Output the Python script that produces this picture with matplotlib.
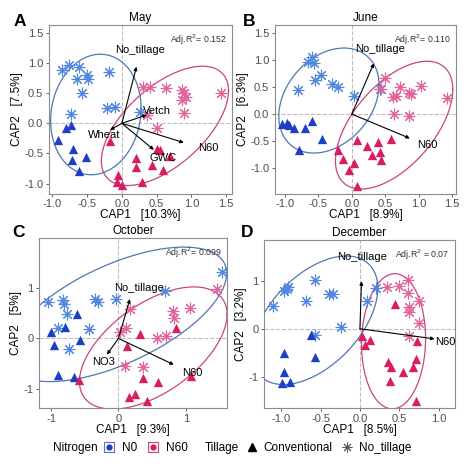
import numpy as np
import matplotlib.pyplot as plt
from matplotlib.lines import Line2D

plt.rcParams['font.family'] = ['Liberation Sans', 'DejaVu Sans']

# =========================
# Data
# =========================
# May
may_n0_nt = [(-0.86, 0.88), (-0.76, 0.97), (-0.62, 0.94), (-0.65, 0.74), (-0.50, 0.80),
             (-0.48, 0.74), (-0.58, 0.51), (-0.19, 0.86), (-0.21, 0.25), (-0.10, 0.27),
             (-0.73, 0.16), (0.26, 0.19)]
may_n0_cv = [(-0.92, -0.27), (-0.81, -0.07), (-0.73, -0.03), (-0.70, -0.43), (-0.72, -0.60),
             (-0.52, -0.55), (-0.61, -0.79)]
may_n60_nt = [(0.31, 0.60), (0.41, 0.61), (0.64, 0.58), (0.86, 0.55), (0.89, 0.50),
              (0.92, 0.43), (0.87, 0.38), (1.43, 0.51), (0.89, 0.18), (0.36, 0.14), (0.50, -0.08)]
may_n60_cv = [(-0.17, -0.30), (0.21, -0.58), (0.21, -0.72), (0.43, -0.69), (0.50, -0.43),
              (0.55, -0.44), (0.69, -0.54), (0.59, -0.77), (-0.05, -0.86), (-0.07, -0.98),
              (0.00, -1.02), (0.29, -0.97)]
may_arrows = [("No_tillage", 0.21, 0.94), ("Vetch", 0.36, 0.14), ("Wheat", -0.17, -0.11),
              ("GWC", 0.46, -0.44), ("N60", 0.89, -0.32)]
may_label_pos = [(0.26, 1.22), (0.50, 0.20), (-0.26, -0.19), (0.60, -0.58), (1.24, -0.41)]
# ellipses: centre x, centre y, half width, half height, cos(phase)
may_ell = [(-0.374, 0.147, 0.65, 1.0, 0.10), (0.619, -0.042, 0.914, 0.99, 0.59)]

# June
jun_n0_nt = [(-0.59, 1.06), (-0.66, 0.97), (-0.56, 0.95), (-0.46, 0.72), (-0.55, 0.64),
             (-0.29, 0.56), (-0.20, 0.51), (-0.80, 0.45), (0.03, 0.34), (0.42, 0.47)]
jun_n0_cv = [(-1.04, -0.18), (-0.97, -0.17), (-0.94, -0.20), (-0.87, -0.25), (-0.70, -0.25),
             (-0.59, -0.12), (-0.45, -0.46), (-0.79, -0.66)]
jun_n60_nt = [(0.50, 0.66), (0.44, 0.46), (0.72, 0.51), (0.61, 0.31), (0.66, 0.33),
              (0.86, 0.39), (0.88, 0.37), (1.04, 0.53), (1.42, 0.29), (0.63, 0.01), (0.85, -0.04)]
jun_n60_cv = [(-0.21, -0.67), (-0.13, -0.83), (-0.04, -1.04), (0.03, -0.90), (0.08, -1.34),
              (0.08, -0.49), (0.23, -0.59), (0.31, -0.75), (0.39, -0.51), (0.42, -0.70),
              (0.44, -0.86), (0.58, -0.46)]
jun_arrows = [("No_tillage", 0.33, 0.94), ("N60", 0.87, -0.45)]
jun_label_pos = [(0.42, 1.21), (1.13, -0.58)]
jun_ell = [(-0.342, 0.251, 0.75, 0.974, 0.30), (0.634, -0.205, 0.878, 1.185, 0.56)]

# October
oct_n0_nt = [(-1.04, 0.73), (-0.82, 0.76), (-0.81, 0.68), (-0.77, 0.48), (-0.89, 0.20),
             (-0.43, 0.18), (-0.73, -0.21), (-0.35, 0.78), (-0.31, 0.73), (-0.04, 0.78),
             (0.69, 0.93), (1.53, 1.32)]
oct_n0_cv = [(-0.61, 0.48), (-1.00, 0.12), (-0.79, 0.23), (-0.95, -0.13), (-0.57, -0.03),
             (-0.89, -0.72), (-0.66, -0.77)]
oct_n60_nt = [(1.46, 0.97), (0.17, 0.58), (0.11, 0.20), (0.03, 0.12), (0.81, 0.55),
              (0.82, 0.41), (1.06, 0.60), (0.57, 0.01), (0.71, 0.05), (0.10, -0.54), (0.37, -0.57)]
oct_n60_cv = [(0.12, -0.15), (0.32, 0.09), (0.86, 0.20), (0.37, -0.78), (0.58, -0.87),
              (-0.59, -0.82), (0.15, -1.15), (0.25, -1.11), (0.42, -1.23), (1.07, -0.74)]
oct_arrows = [("No_tillage", 0.17, 0.78), ("NO3", -0.17, -0.32), ("N60", 0.82, -0.52)]
oct_label_pos = [(0.30, 1.00), (-0.22, -0.47), (1.09, -0.69)]
oct_ell = [(-0.025, 0.477, 1.63, 1.332, 0.61), (0.516, -0.19, 1.094, 1.21, 0.55)]

# December
dec_n0_nt = [(-1.11, 0.47), (-0.97, 0.79), (-0.93, 0.82), (-0.91, 0.87), (-0.57, 1.01),
             (-0.69, 0.57), (-0.39, 0.72), (-0.34, 0.72), (-0.24, 0.04), (-0.57, -0.13),
             (0.09, 0.57), (0.21, 0.84)]
dec_n0_cv = [(-0.62, -0.13), (-0.57, -0.59), (-0.97, -0.51), (-0.96, -0.89), (-0.99, -1.13),
             (-0.89, -1.11)]
dec_n60_nt = [(0.34, 0.87), (0.50, 0.89), (0.61, 1.01), (0.61, 0.75), (0.62, 0.46),
              (0.62, 0.35), (0.75, 0.58), (0.75, 0.11), (0.62, -0.14)]
dec_n60_cv = [(0.45, 0.51), (0.03, -0.14), (0.06, -0.33), (0.13, -0.23), (0.73, -0.25),
              (0.36, -0.70), (0.39, -0.80), (0.38, -1.08), (0.55, -0.89), (0.67, -0.80),
              (0.71, -0.63), (0.71, -1.50)]
dec_arrows = [("No_tillage", 0.02, 0.99), ("N60", 0.95, -0.21)]
dec_label_pos = [(0.03, 1.49), (1.08, -0.28)]
dec_ell = [(-0.573, 0.177, 0.80, 1.337, 0.50), (0.428, -0.26, 0.407, 1.406, 0.04)]

titles = ["May", "June", "October", "December"]
letters = ["A", "B", "C", "D"]
r2_labels = ["Adj.R$^2$= 0.152", "Adj.R$^2$= 0.110", "Adj.R$^2$= 0.099", "Adj.R$^2$ = 0.07"]
xlabels = ["CAP1   [10.3%]", "CAP1   [8.9%]", "CAP1   [9.3%]", "CAP1   [8.5%]"]
ylabels = ["CAP2   [7.5%]", "CAP2   [6.3%]", "CAP2   [5%]", "CAP2   [3.2%]"]

# =========================
# Styling / layout
# =========================
blue_cv = "#1d3fc4"
blue_nt = "#4f86e0"
blue_ell = "#4f77b3"
pink_cv = "#d81d62"
pink_nt = "#e2629b"
pink_ell = "#c9457d"

ax_rects = [(0.103, 0.591, 0.386, 0.356), (0.580, 0.591, 0.382, 0.356),
            (0.082, 0.139, 0.397, 0.359), (0.557, 0.139, 0.403, 0.355)]
xlims = [(-1.05, 1.58), (-1.15, 1.56), (-1.18, 1.61), (-1.22, 1.21)]
ylims = [(-1.17, 1.63), (-1.48, 1.65), (-1.38, 1.99), (-1.65, 1.85)]
xticks = [[-1.0, -0.5, 0.0, 0.5, 1.0, 1.5], [-1.0, -0.5, 0.0, 0.5, 1.0, 1.5],
          [-1, 0, 1], [-1.0, -0.5, 0.0, 0.5, 1.0]]
yticks = [[-1.0, -0.5, 0.0, 0.5, 1.0, 1.5], [-1.0, -0.5, 0.0, 0.5, 1.0, 1.5],
          [-1, 0, 1], [-1, 0, 1]]
fmt_x = ["%.1f", "%.1f", "%d", "%.1f"]
fmt_y = ["%.1f", "%.1f", "%d", "%d"]

asterisk = (8, 2, 0)


def ellipse_xy(cx, cy, a, b, cphi, n=120):
    t = np.linspace(0, 2 * np.pi, n)
    phi = np.arccos(cphi)
    return cx + a * np.cos(t), cy + b * np.cos(t - phi)


panels = [
    (may_n0_nt, may_n0_cv, may_n60_nt, may_n60_cv, may_arrows, may_label_pos, may_ell),
    (jun_n0_nt, jun_n0_cv, jun_n60_nt, jun_n60_cv, jun_arrows, jun_label_pos, jun_ell),
    (oct_n0_nt, oct_n0_cv, oct_n60_nt, oct_n60_cv, oct_arrows, oct_label_pos, oct_ell),
    (dec_n0_nt, dec_n0_cv, dec_n60_nt, dec_n60_cv, dec_arrows, dec_label_pos, dec_ell),
]

fig = plt.figure(figsize=(4.74, 4.74), dpi=100)

for i, (n0_nt, n0_cv, n60_nt, n60_cv, arrows, lpos, ells) in enumerate(panels):
    ax = fig.add_axes(ax_rects[i])

    ax.axhline(0, color="#bdbdbd", ls="--", lw=0.8, zorder=0)
    ax.axvline(0, color="#bdbdbd", ls="--", lw=0.8, zorder=0)

    for ell, col in zip(ells, [blue_ell, pink_ell]):
        ex, ey = ellipse_xy(*ell)
        ax.plot(ex, ey, color=col, lw=0.9, zorder=1)

    for pts, col in [(n0_nt, blue_nt), (n60_nt, pink_nt)]:
        a = np.array(pts)
        ax.scatter(a[:, 0], a[:, 1], marker=asterisk, s=60, color=col, lw=0.8, zorder=2)
        ax.scatter(a[:, 0], a[:, 1], marker="o", s=2.5, color=col, lw=0, zorder=2)
    for pts, col in [(n0_cv, blue_cv), (n60_cv, pink_cv)]:
        a = np.array(pts)
        ax.scatter(a[:, 0], a[:, 1], marker="^", s=45, color=col, lw=0, zorder=2)

    for (name, ex, ey), (lx, ly) in zip(arrows, lpos):
        ax.annotate("", xy=(ex, ey), xytext=(0, 0),
                    arrowprops=dict(arrowstyle="-|>", color="black", lw=0.8,
                                    mutation_scale=5, shrinkA=0, shrinkB=0), zorder=3)
        ax.text(lx, ly, name, fontsize=8, ha="center", va="center", color="black", zorder=4)

    ax.set_xlim(*xlims[i])
    ax.set_ylim(*ylims[i])
    ax.set_xticks(xticks[i])
    ax.set_yticks(yticks[i])
    ax.set_xticklabels([fmt_x[i] % v for v in xticks[i]])
    ax.set_yticklabels([fmt_y[i] % v for v in yticks[i]])
    ax.tick_params(labelsize=8, colors="#4d4d4d", length=2.5, width=0.6, pad=1.5)
    for sp in ax.spines.values():
        sp.set_color("#8c8c8c")
        sp.set_linewidth(0.8)

    ax.set_title(titles[i], fontsize=8.5, pad=3)
    ax.set_xlabel(xlabels[i], fontsize=8.5, labelpad=0)
    ax.set_ylabel(ylabels[i], fontsize=8.5, labelpad=1)
    ax.text(0.97, 0.955, r2_labels[i], transform=ax.transAxes, ha="right", va="top",
            fontsize=6.3, color="#333333")

# panel letters
for (lx, ly), lt in zip([(0.042, 0.955), (0.525, 0.955), (0.040, 0.509), (0.521, 0.509)], letters):
    fig.text(lx, ly, lt, fontsize=12.5, fontweight="bold", ha="center", va="center")

# =========================
# Legend
# =========================
fig.text(0.112, 0.055, "Nitrogen", fontsize=8.5, ha="left", va="center")
n_handles = [
    (Line2D([], [], marker="s", ls="", ms=6.5, mfc="white", mec=blue_ell, mew=0.8),
     Line2D([], [], marker="o", ls="", ms=3.5, color=blue_cv)),
    (Line2D([], [], marker="s", ls="", ms=6.5, mfc="white", mec=pink_ell, mew=0.8),
     Line2D([], [], marker="o", ls="", ms=3.5, color=pink_cv)),
]
fig.legend(n_handles, ["N0", "N60"], loc="center left", bbox_to_anchor=(0.218, 0.055),
           ncol=2, frameon=False, fontsize=8.5, handlelength=1.0, handletextpad=0.55,
           columnspacing=0.9, borderpad=0, borderaxespad=0)
fig.text(0.432, 0.055, "Tillage", fontsize=8.5, ha="left", va="center")
t_handles = [Line2D([], [], marker="^", ls="", ms=6, color="black"),
             Line2D([], [], marker=asterisk, ls="", ms=7, color="#555555", mew=0.7)]
fig.legend(t_handles, ["Conventional", "No_tillage"], loc="center left",
           bbox_to_anchor=(0.519, 0.055), ncol=2, frameon=False, fontsize=8.5,
           handlelength=1.0, handletextpad=0.5, columnspacing=0.7, borderpad=0,
           borderaxespad=0)

fig.savefig("out.png", dpi=100)
